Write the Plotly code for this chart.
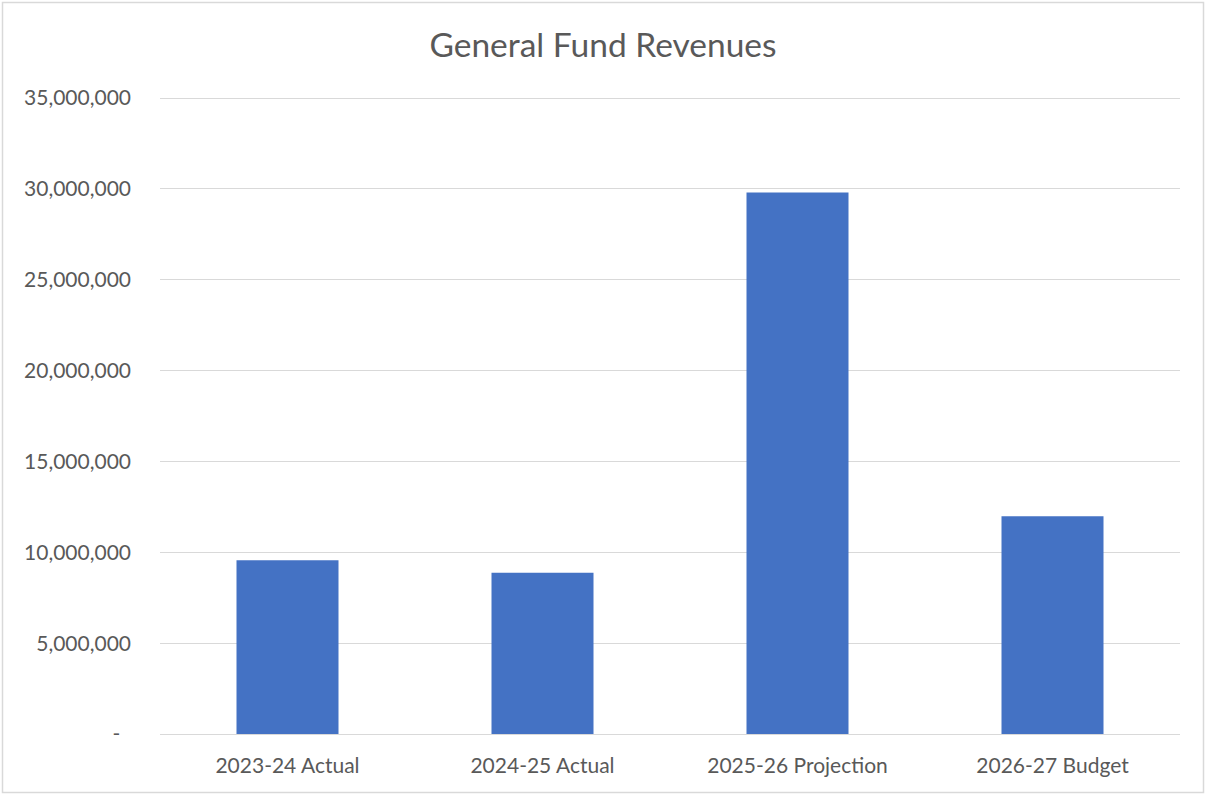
import plotly.graph_objects as go

# General Fund revenues by fiscal year
categories = ["2023-24 Actual", "2024-25 Actual", "2025-26 Projection", "2026-27 Budget"]
revenues = [9_560_000, 8_880_000, 29_800_000, 11_990_000]

tick_vals = [0, 5_000_000, 10_000_000, 15_000_000, 20_000_000, 25_000_000, 30_000_000, 35_000_000]
tick_text = ["-\u00a0\u00a0", "5,000,000", "10,000,000", "15,000,000", "20,000,000",
             "25,000,000", "30,000,000", "35,000,000"]

W, H = 1206, 795
ML, MR, MT, MB = 160, 26, 97, 61

FONT = "Lato"
GREY = "#595959"
GRID = "#d9d9d9"

fig = go.Figure(
    go.Bar(
        x=categories,
        y=revenues,
        marker=dict(color="#4472c4", line=dict(width=0)),
        width=0.4,
    )
)

pw = W - ML - MR
ph = H - MT - MB

fig.update_layout(
    width=W,
    height=H,
    margin=dict(l=ML, r=MR, t=MT, b=MB),
    paper_bgcolor="white",
    plot_bgcolor="white",
    showlegend=False,
    title=dict(
        text="General Fund Revenues",
        x=0.5,
        xref="container",
        xanchor="center",
        y=1 - 45 / H,
        yanchor="middle",
        font=dict(family=FONT, size=33.5, color=GREY),
    ),
    xaxis=dict(
        showgrid=False,
        showline=False,
        ticks="",
        ticklabelstandoff=17,
        tickfont=dict(family=FONT, size=21, color=GREY),
    ),
    yaxis=dict(
        range=[0, 35_060_000],
        tickvals=tick_vals,
        ticktext=tick_text,
        showgrid=True,
        gridcolor=GRID,
        gridwidth=1,
        zeroline=True,
        zerolinecolor=GRID,
        zerolinewidth=1,
        showline=False,
        ticks="",
        ticklabelstandoff=28,
        tickfont=dict(family=FONT, size=21, color=GREY),
    ),
    shapes=[
        dict(
            type="rect",
            xref="paper",
            yref="paper",
            x0=-(ML - 2.5) / pw,
            x1=1 + (MR - 2.5) / pw,
            y0=-(MB - 2.5) / ph,
            y1=1 + (MT - 2.5) / ph,
            line=dict(color=GRID, width=1.5),
            fillcolor="rgba(0,0,0,0)",
            layer="below",
        )
    ],
)

fig.write_html("out.html")
